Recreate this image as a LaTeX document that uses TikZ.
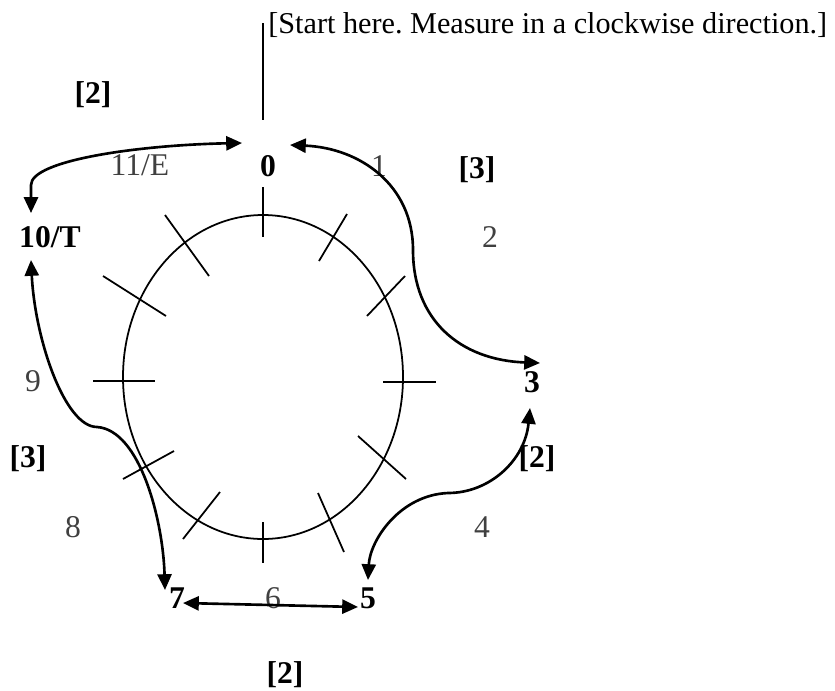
\documentclass[tikz,border=0pt]{standalone}
\usepackage{fontspec}
\setmainfont{Liberation Serif}
\usetikzlibrary{arrows.meta}
\frenchspacing
\tikzset{
  face/.style={line width=1pt},
  hop/.style={line width=1.5pt,{Triangle[length=9pt,width=8pt]}-{Triangle[length=9pt,width=8pt]}},
  hour/.style={font=\fontsize{18}{21}\selectfont\bfseries,anchor=base,inner sep=0pt},
  minor/.style={font=\fontsize{18}{21}\selectfont,text=black!75,anchor=base,inner sep=0pt},
  wt/.style={font=\fontsize{18}{21}\selectfont\bfseries,anchor=base,inner sep=0pt},
}

\begin{document}
\begin{tikzpicture}[x=0.02cm,y=-0.02cm]
  \useasboundingbox (0,0) rectangle (835,690);
  % clock face
  \draw[face] (263,377) ellipse [x radius=140, y radius=162];
  \foreach \ax/\ay/\bx/\by in {263/187/263/237, 347/214/319/261, 405/276/367/316,
      383/382/436/382, 358/436/406/479, 318/493/344/552, 263/522/263/563,
      220/492/183/539, 174/451/123/479, 93/381/155/381, 103/276/166/316, 165/215/209/276}
    \draw[face] (\ax,\ay) -- (\bx,\by);
  % start note
  \node[font=\fontsize{17.2}{20}\selectfont,anchor=base west,inner sep=0pt] (note) at (268,33)
    {[Start here. Measure in a clockwise direction.]};
  \coordinate (ntop) at (263,23);
  \coordinate (nbot) at (263,120);
  \draw[face] (ntop) -- (nbot);
  % hours
  \node[hour] (h0) at (268,176) {0};
  \node[minor] (h1) at (379,176) {1};
  \node[minor] (h2) at (490,247) {2};
  \node[hour] (h3) at (532,392) {3};
  \node[minor] (h4) at (482,537) {4};
  \node[hour] (h5) at (368,608) {5};
  \node[minor] (h6) at (273,608) {6};
  \node[hour] (h7) at (177,608) {7};
  \node[minor] (h8) at (73,537) {8};
  \node[minor] (h9) at (33,391) {9};
  \node[hour] (h10) at (50,247) {10/T};
  \node[minor] (h11) at (140,175) {11/E};
  % interval sizes
  \node[wt] (w1) at (93,103) {[2]};
  \node[wt] (w2) at (477,178) {[3]};
  \node[wt] (w3) at (537,467) {[2]};
  \node[wt] (w4) at (285,683) {[2]};
  \node[wt] (w5) at (28,467) {[3]};
  % hops
  \coordinate (t0l) at (242,143); \coordinate (t10u) at (31,213);
  \coordinate (t0r) at (290,145); \coordinate (t3u) at (540,363);
  \coordinate (t3d) at (530,408); \coordinate (t5u) at (368,580);
  \coordinate (t5l) at (358,607); \coordinate (t7r) at (183,603);
  \coordinate (t7u) at (165,590); \coordinate (t10d) at (31,260);
  \draw[hop] (t10u) -- (31,185) .. controls (31,160) and (140,145) .. (t0l);
  \draw[hop] (t0r) .. controls (360,148) and (413,185) .. (413,250)
    .. controls (413,320) and (460,360) .. (t3u);
  \draw[hop] (t3d) .. controls (525,460) and (490,493) .. (448,493)
    .. controls (400,495) and (370,540) .. (t5u);
  \draw[hop] (t7r) -- (t5l);
  \draw[hop] (t10d) .. controls (35,340) and (65,427) .. (97,427)
    .. controls (140,430) and (163,520) .. (t7u);
\end{tikzpicture}
\end{document}
